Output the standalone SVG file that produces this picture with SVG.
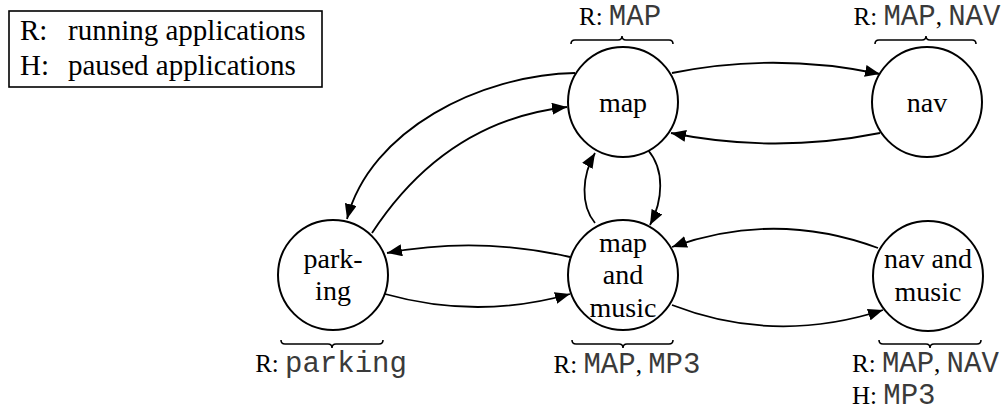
<svg xmlns="http://www.w3.org/2000/svg" width="1008" height="414" viewBox="0 0 1008 414">
<style>
.node circle{fill:#fff;stroke:#000;stroke-width:2}
.lbl{font-family:"Liberation Serif","Times New Roman",serif;font-size:28px;fill:#000;text-anchor:middle}
.ann{font-family:"Liberation Serif","Times New Roman",serif;font-size:25px;fill:#000}
.leg{font-family:"Liberation Serif","Times New Roman",serif;font-size:29px;fill:#000}
.mono{font-family:"Liberation Mono","Courier New",monospace;font-size:29px;fill:#3a3a3a}
.edge{fill:none;stroke:#000;stroke-width:1.8;marker-end:url(#ah)}
.brace{fill:none;stroke:#000;stroke-width:1.6}
</style>
<defs>
<marker id="ah" markerUnits="userSpaceOnUse" markerWidth="16" markerHeight="12" refX="15" refY="6" orient="auto">
<path d="M0,0 L15,6 L0,12 z" fill="#000"/>
</marker>
</defs>
<rect width="1008" height="414" fill="#fff"/>
<g id="legend">
<rect x="9" y="11" width="313" height="76" fill="#fff" stroke="#000" stroke-width="1.6"/>
<text class="leg" x="20" y="40">R:</text>
<text class="leg" x="68" y="40">running applications</text>
<text class="leg" x="20" y="75">H:</text>
<text class="leg" x="68" y="75">paused applications</text>
</g>
<g id="connectors">
<path class="edge" d="M672,73 Q775,52 880,74"/>
<path class="edge" d="M880,133 Q775,154 671,133"/>
<path class="edge" d="M575,73 C480,75 370,130 347,219"/>
<path class="edge" d="M372,233 C410,175 470,118 567,107"/>
<path class="edge" d="M648,150 C665,170 663,200 650,225"/>
<path class="edge" d="M595,223 C580,205 582,175 595,153"/>
<path class="edge" d="M570,257 Q478,236 387,253"/>
<path class="edge" d="M385,294 Q478,320 570,294"/>
<path class="edge" d="M878,248 Q775,210 672,247"/>
<path class="edge" d="M672,305 Q775,345 883,310"/>
</g>
<g id="node-map" class="node">
<circle cx="623" cy="102" r="55"/>
<text class="lbl" x="623" y="112">map</text>
<path class="brace" d="M571,44 q0,-4 4,-4 L618,40 q4,0 4,-4 q0,4 4,4 L669,40 q4,0 4,4"/>
<text class="ann" x="620" y="25" text-anchor="middle">R: <tspan class="mono">MAP</tspan></text>
</g>
<g id="node-nav" class="node">
<circle cx="927" cy="102" r="55"/>
<text class="lbl" x="927" y="112">nav</text>
<path class="brace" d="M875,44 q0,-4 4,-4 L922,40 q4,0 4,-4 q0,4 4,4 L972,40 q4,0 4,4"/>
<text class="ann" x="927" y="25" text-anchor="middle">R: <tspan class="mono">MAP</tspan>, <tspan class="mono">NAV</tspan></text>
</g>
<g id="node-parking" class="node">
<circle cx="333" cy="275" r="55"/>
<text class="lbl" x="333" y="268">park-</text>
<text class="lbl" x="333" y="300">ing</text>
<path class="brace" d="M281,340 q0,4 4,4 L328,344 q4,0 4,4 q0,-4 4,-4 L379,344 q4,0 4,-4"/>
<text class="ann" x="331" y="372" text-anchor="middle">R: <tspan class="mono">parking</tspan></text>
</g>
<g id="node-map-music" class="node">
<circle cx="623" cy="275" r="55"/>
<text class="lbl" x="623" y="252">map</text>
<text class="lbl" x="623" y="284">and</text>
<text class="lbl" x="623" y="317">music</text>
<path class="brace" d="M572,340 q0,4 4,4 L619,344 q4,0 4,4 q0,-4 4,-4 L669,344 q4,0 4,-4"/>
<text class="ann" x="627" y="373" text-anchor="middle">R: <tspan class="mono">MAP</tspan>, <tspan class="mono">MP3</tspan></text>
</g>
<g id="node-nav-music" class="node">
<circle cx="928" cy="276" r="55"/>
<text class="lbl" x="928" y="268">nav and</text>
<text class="lbl" x="928" y="301">music</text>
<path class="brace" d="M879,340 q0,4 4,4 L926,344 q4,0 4,4 q0,-4 4,-4 L977,344 q4,0 4,-4"/>
<text class="ann" x="852" y="372">R: <tspan class="mono">MAP</tspan>, <tspan class="mono">NAV</tspan></text>
<text class="ann" x="852" y="404">H: <tspan class="mono">MP3</tspan></text>
</g>
</svg>
